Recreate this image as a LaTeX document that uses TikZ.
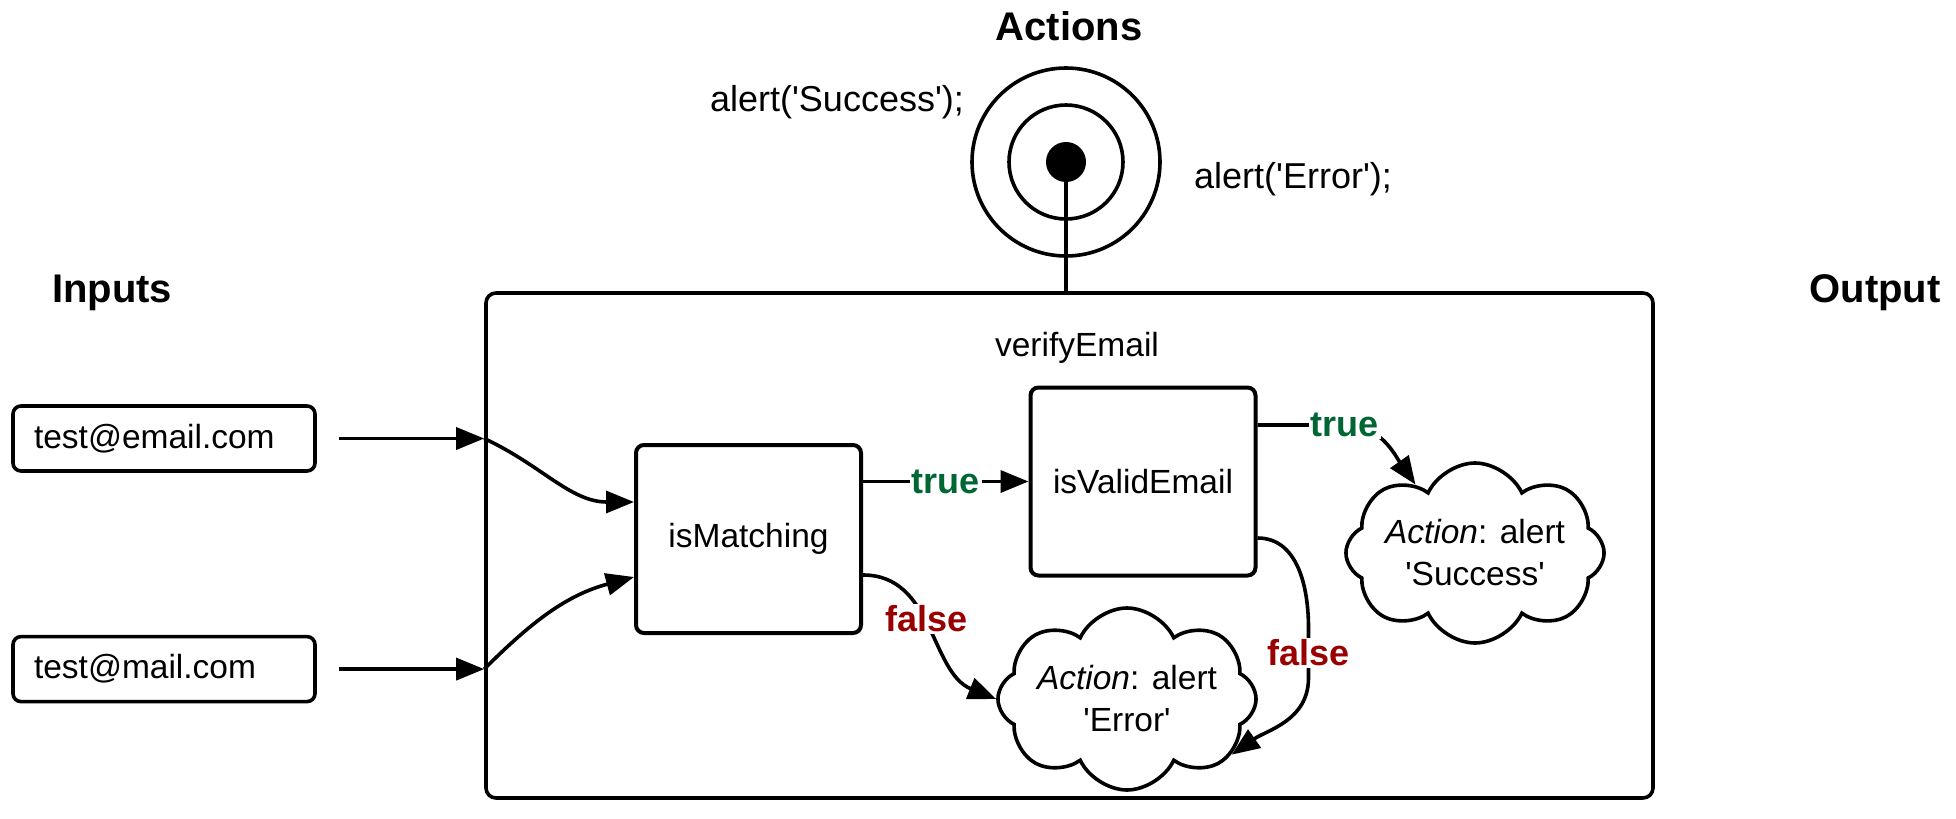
\documentclass[tikz,border=0pt]{standalone}
\usepackage{fontspec}
\setmainfont{Liberation Sans}
\usepackage{tikz}
\usetikzlibrary{arrows.meta, positioning, calc, shapes.symbols}

\definecolor{truegreen}{RGB}{0,102,51}
\definecolor{falsered}{RGB}{153,0,0}
\newcommand{\squote}{\textquotesingle}

\begin{document}
\begin{tikzpicture}[
    x=0.5pt, y=0.5pt,
    txt/.style={font=\fontsize{16.75}{21}\selectfont},
    head/.style={font=\fontsize{20}{24}\selectfont\bfseries, anchor=base},
    code/.style={font=\fontsize{18}{22}\selectfont, anchor=base},
    inbox/.style={draw, rounded corners=4pt, line width=1.8pt, minimum height=32.5pt, text width=130pt, inner xsep=10.5pt, align=left, txt},
    func/.style={draw, rounded corners=4pt, line width=2pt, minimum width=112.5pt, minimum height=94pt, txt},
    action/.style={cloud, cloud puffs=8, cloud puff arc=130, cloud ignores aspect, draw, line width=1.8pt, align=center, inner sep=0pt, txt},
    ring/.style={circle, draw, line width=1.8pt, inner sep=0pt},
    link/.style={line width=1.8pt},
    arrow/.style={line width=1.8pt, ->, >={Triangle[length=14pt,width=11pt]}},
    truelbl/.style={fill=white, inner sep=1pt, text=truegreen, font=\fontsize{18}{22}\selectfont\bfseries},
    falselbl/.style={fill=white, inner sep=1pt, text=falsered, font=\fontsize{18}{22}\selectfont\bfseries}
]
    \useasboundingbox (0,0) rectangle (1956,-819);

    % headings
    \node[head] (inputs) at (112,-302) {Inputs};
    \node[head] (output) at (1875,-302) {Output};
    \node[head] (actions) at (1069,-40) {Actions};

    % target with the two calls
    \node[ring, minimum size=94pt] (ring) at (1066,-162) {};
    \node[ring, minimum size=57pt] (ringin) at (ring.center) {};
    \node[circle, fill, minimum size=20pt, inner sep=0pt] (dot) at (ring.center) {};
    \node[code] (okcall) at (837,-111) {alert(\squote Success\squote);};
    \node[code] (errcall) at (1293,-188) {alert(\squote Error\squote);};

    % the function
    \node[draw, rounded corners=5pt, line width=1.8pt, minimum width=583.5pt, minimum height=252.5pt] (verify) at (1069.5,-545.5) {};
    \node[txt, anchor=base] (vtitle) at (1077,-356) {verifyEmail};

    \node[inbox] (mail1) at (164,-438.5) {test@email.com};
    \node[inbox, below=81pt of mail1] (mail2) {test@mail.com};

    \node[func] (match) at (748.5,-539) {isMatching};
    \node[func] (valid) at (1143,-481.5) {isValidEmail};

    \node[action, minimum width=128.5pt, minimum height=90pt] (okcloud) at (1475,-553) {\textit{Action}: alert\\\squote Success\squote};
    \node[action, minimum width=125pt, minimum height=91pt] (errcloud) at (1127,-699) {\textit{Action}: alert\\\squote Error\squote};

    % connectors
    \draw[link] (dot.center) -- (dot.center |- verify.north);

    \draw[arrow, shorten <=11pt] (mail1.east) -- (mail1.east -| verify.west);
    \draw[arrow] (mail1.east -| verify.west) to[out=-25, in=180] ($(match.west)+(0,37)$);
    \draw[arrow, shorten <=11pt] (mail2.east) -- (mail2.east -| verify.west);
    \draw[arrow] (mail2.east -| verify.west) to[out=45, in=195] ($(match.west)+(0,-38)$);

    \draw[arrow] (match.east |- valid.west) -- node[truelbl] {true} (valid.west);
    \draw[arrow] ($(valid.east)+(0,56.5)$) -- ++(87,0) node[truelbl] {true} to[out=0, in=125] (okcloud.131);

    \draw[arrow] ($(match.east)+(0,-36)$) to[out=0, in=158] node[pos=0.45, falselbl] {false} (errcloud.180);
    \draw[arrow] ($(valid.east)+(0,-56.5)$) to[out=0, in=90] ++(51,-90) -- node[falselbl] {false} ++(0,-50) to[out=-90, in=35] (errcloud.-28);

\end{tikzpicture}
\end{document}
